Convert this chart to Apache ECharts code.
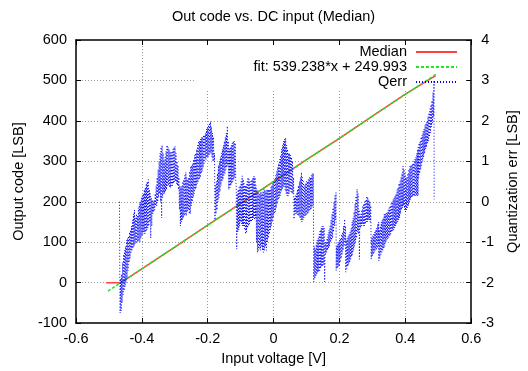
<!DOCTYPE html>
<html><head><meta charset="utf-8">
<script src="https://cdn.jsdelivr.net/npm/echarts@6/dist/echarts.min.js"></script>
<style>html,body{margin:0;padding:0;background:#fff}#c{width:528px;height:371px}</style>
</head><body><div id="c"></div>
<script>
const FONT = 'Liberation Sans, Arial, Helvetica, sans-serif';
const titleText = 'Out code vs. DC input (Median)';
const xName = 'Input voltage [V]';
const yLeftName = 'Output code [LSB]';
const yRightName = 'Quantization err [LSB]';
const seriesNames = ['Median', 'fit: 539.238*x + 249.993', 'Qerr'];

// Median output code [x (V), code (LSB)]
const medianData = [[-0.508,0],[-0.468,0],[-0.46,2],[-0.4,34],[-0.3,88],[-0.2,142],[-0.1,196],[0,250],[0.1,304],[0.2,357],[0.3,412],[0.4,466],[0.492,512]];
// Linear fit endpoints
const fitData = [[-0.503,-21],[0.496,517]];
// Quantization error [x (V), err (LSB)]
const qerrData = [
[-0.468,0.0],[-0.467,-1.98],[-0.466,-2.75],[-0.4645,-1.9],[-0.463,-2.7],[-0.4615,-1.8],[-0.46,-2.5],
[-0.4585,-1.5],[-0.457,-2.3],[-0.4555,-1.3],[-0.454,-2.2],[-0.4525,-1.2],[-0.451,-2.1],
[-0.4495,-1.1],[-0.448,-2.0],[-0.4465,-0.95],[-0.445,-1.9],[-0.4435,-0.9],[-0.442,-1.7],
[-0.4405,-0.85],[-0.439,-1.5],[-0.4375,-0.75],[-0.436,-1.4],[-0.4345,-0.7],[-0.433,-1.25],
[-0.4315,-0.6],[-0.43,-1.2],[-0.4285,-0.45],[-0.427,-1.15],[-0.4255,-0.3],[-0.424,-1.1],
[-0.4225,-0.2],[-0.421,-1.05],[-0.4195,-0.4],[-0.418,-1.0],[-0.4165,-0.3],[-0.415,-1.0],
[-0.4135,-0.35],[-0.412,-1.0],[-0.4105,-0.15],[-0.409,-0.95],[-0.4075,-0.05],[-0.406,-1.0],
[-0.4045,0.0],[-0.403,-0.9],[-0.4015,0.1],[-0.4,-0.85],[-0.3985,0.15],[-0.397,-0.8],
[-0.3955,0.2],[-0.394,-0.75],[-0.3925,0.3],[-0.391,-0.8],[-0.3895,0.35],[-0.388,-0.75],
[-0.3865,0.45],[-0.385,-0.7],[-0.3835,0.5],[-0.382,-0.65],[-0.3805,0.55],[-0.379,-0.6],
[-0.3775,0.3],[-0.376,-0.5],[-0.3745,0.2],[-0.373,-0.9],[-0.3715,0.1],[-0.37,-0.6],[-0.3685,0.05],[-0.367,-0.3],[-0.3655,0.0],[-0.364,-0.25],[-0.3625,0.05],[-0.361,-0.2],
[-0.3595,0.2],[-0.358,-0.1],[-0.3565,0.4],[-0.355,-0.1],[-0.3535,0.6],[-0.352,0.0],[-0.3505,0.8],[-0.349,0.1],
[-0.3475,1.0],[-0.346,0.2],[-0.3445,1.2],[-0.343,0.0],[-0.3415,1.35],[-0.34,-0.4],[-0.3385,1.4],[-0.337,0.1],
[-0.3355,1.2],[-0.334,0.2],[-0.3325,1.0],[-0.331,0.2],[-0.3295,1.1],[-0.328,0.25],[-0.3265,1.25],[-0.325,0.3],
[-0.3235,1.4],[-0.322,0.4],[-0.3205,1.35],[-0.319,0.4],[-0.3175,1.3],[-0.316,0.35],[-0.3145,1.25],[-0.313,0.35],
[-0.3115,1.2],[-0.31,0.4],[-0.3085,1.25],[-0.307,0.4],[-0.3055,1.3],[-0.304,0.45],[-0.3025,1.35],[-0.301,0.5],
[-0.2995,1.37],[-0.298,0.5],[-0.2965,1.2],[-0.295,0.45],[-0.2935,1.0],[-0.292,0.4],[-0.2905,0.9],[-0.289,0.3],
[-0.2875,0.6],[-0.286,-0.2],[-0.2845,0.4],[-0.283,-0.6],[-0.2815,0.35],[-0.28,-0.5],[-0.2785,0.4],[-0.277,-0.45],
[-0.2755,0.5],[-0.274,-0.4],[-0.2725,0.55],[-0.271,-0.35],[-0.2695,0.65],[-0.268,-0.3],[-0.2665,0.73],[-0.265,-0.35],
[-0.2635,0.6],[-0.262,-0.25],[-0.2605,0.55],[-0.259,-0.2],[-0.2575,0.6],[-0.256,-0.3],[-0.2545,0.75],[-0.253,-0.3],
[-0.2515,0.88],[-0.25,-0.1],[-0.2485,0.9],[-0.247,0.0],[-0.2455,0.95],[-0.244,0.1],[-0.2425,1.05],[-0.241,0.2],
[-0.2395,1.15],[-0.238,0.3],[-0.2365,1.2],[-0.235,0.35],[-0.2335,1.3],[-0.232,0.45],[-0.2305,1.4],[-0.229,0.5],
[-0.2275,1.5],[-0.226,0.55],[-0.2245,1.5],[-0.223,0.6],[-0.2215,1.55],[-0.22,0.7],[-0.2185,1.6],[-0.217,0.75],
[-0.2155,1.6],[-0.214,0.85],[-0.2125,1.65],[-0.211,0.95],[-0.2095,1.65],[-0.208,1.05],[-0.2065,1.7],[-0.205,1.05],
[-0.2035,1.8],[-0.202,1.1],[-0.2005,1.85],[-0.199,1.1],[-0.1975,1.9],[-0.196,1.15],[-0.1945,1.95],[-0.193,1.2],
[-0.1915,1.99],[-0.19,1.2],[-0.1885,1.85],[-0.187,1.1],[-0.1855,1.7],[-0.184,1.0],[-0.1825,1.6],[-0.181,1.0],
[-0.1795,1.2],[-0.178,-0.45],[-0.1765,0.4],[-0.175,-0.3],[-0.1735,0.5],[-0.172,-0.2],[-0.1705,0.7],[-0.169,0.0],
[-0.1675,0.9],[-0.166,0.1],[-0.1645,1.0],[-0.163,0.25],[-0.1615,1.1],[-0.16,0.4],[-0.1585,1.2],[-0.157,0.5],
[-0.1555,1.3],[-0.154,0.55],[-0.1525,1.4],[-0.151,0.65],[-0.1495,1.5],[-0.148,0.7],[-0.1465,1.6],[-0.145,0.8],
[-0.1435,1.7],[-0.142,0.85],[-0.1405,1.87],[-0.139,0.9],[-0.1375,1.5],[-0.136,0.3],[-0.1345,1.3],[-0.133,0.35],
[-0.1315,1.35],[-0.13,0.4],[-0.1285,1.4],[-0.127,0.45],[-0.1255,1.45],[-0.124,0.5],[-0.1225,1.5],[-0.121,0.55],
[-0.1195,1.5],[-0.118,0.6],[-0.1165,1.45],[-0.115,0.5],
[-0.1135,0.4],[-0.112,-1.17],[-0.1105,0.2],[-0.109,-0.75],[-0.1075,0.3],[-0.106,-0.7],[-0.1045,0.35],[-0.103,-0.6],
[-0.1015,0.4],[-0.1,-0.5],[-0.0985,0.5],[-0.097,-0.55],[-0.0955,0.64],[-0.094,-0.6],[-0.0925,0.55],[-0.091,-0.6],
[-0.0895,0.45],[-0.088,-0.7],[-0.0865,0.4],[-0.085,-0.8],[-0.0835,0.4],[-0.082,-0.75],[-0.0805,0.5],[-0.079,-0.65],
[-0.0775,0.6],[-0.076,-0.6],[-0.0745,0.55],[-0.073,-0.55],[-0.0715,0.5],[-0.07,-0.5],[-0.0685,0.5],[-0.067,-0.5],
[-0.0655,0.55],[-0.064,-0.45],[-0.0625,0.6],[-0.061,-0.4],[-0.0595,0.64],[-0.058,-0.45],[-0.0565,0.6],[-0.055,-0.4],
[-0.0535,0.4],[-0.052,-1.0],[-0.0505,0.3],[-0.049,-1.25],[-0.0475,0.25],[-0.046,-1.2],[-0.0445,0.2],[-0.043,-1.15],
[-0.0415,0.2],[-0.04,-1.2],[-0.0385,0.25],[-0.037,-1.1],[-0.0355,0.2],[-0.034,-1.2],[-0.0325,0.25],[-0.031,-1.25],
[-0.0295,0.3],[-0.028,-1.2],[-0.0265,0.3],[-0.025,-1.1],[-0.0235,0.25],[-0.022,-1.2],[-0.0205,0.3],[-0.019,-1.0],
[-0.0175,0.3],[-0.016,-0.9],[-0.0145,0.3],[-0.013,-0.8],[-0.0115,0.3],[-0.01,-0.7],[-0.0085,0.35],[-0.007,-0.6],
[-0.0055,0.4],[-0.004,-0.5],[-0.0025,0.45],[-0.001,-0.4],[0.0005,0.5],[0.002,-0.3],[0.0035,0.55],[0.005,-0.25],
[0.0065,0.65],[0.008,-0.15],[0.0095,0.75],[0.011,-0.05],[0.0125,0.85],[0.014,0.05],[0.0155,0.95],[0.017,0.1],
[0.0185,1.05],[0.02,0.15],[0.0215,1.15],[0.023,0.25],[0.0245,1.3],[0.026,0.3],[0.0275,1.4],[0.029,0.35],
[0.0305,1.5],[0.032,0.4],[0.0335,1.55],[0.035,0.3],[0.0365,1.58],[0.038,0.2],[0.0395,1.4],[0.041,0.15],
[0.0425,1.3],[0.044,0.14],[0.0455,1.2],[0.047,0.2],[0.0485,1.2],[0.05,0.3],[0.0515,1.15],[0.053,0.25],
[0.0545,1.1],[0.056,0.2],[0.0575,1.0],[0.059,0.2],
[0.0605,0.6],[0.062,-0.43],[0.0635,0.1],[0.065,-0.3],[0.0665,0.15],[0.068,-0.3],[0.0695,0.2],[0.071,-0.3],
[0.0725,0.3],[0.074,-0.35],[0.0755,0.4],[0.077,-0.35],[0.0785,0.5],[0.08,-0.4],[0.0815,0.6],[0.083,-0.45],
[0.0845,0.72],[0.086,-0.5],[0.0875,0.6],[0.089,-0.45],[0.0905,0.5],[0.092,-0.4],[0.0935,0.4],[0.095,-0.35],
[0.0965,0.45],[0.098,-0.35],[0.0995,0.5],[0.101,-0.3],[0.1025,0.5],[0.104,-0.3],[0.1055,0.55],[0.107,-0.25],
[0.1085,0.6],[0.11,-0.2],[0.1115,0.6],[0.113,-0.2],[0.1145,0.65],[0.116,-0.15],[0.1175,0.7],[0.119,-0.1],
[0.1205,0.7],[0.122,-1.98],[0.1235,-1.1],[0.125,-1.9],[0.1265,-1.17],[0.128,-1.85],[0.1295,-1.05],[0.131,-1.8],
[0.1325,-0.95],[0.134,-1.75],[0.1355,-0.9],[0.137,-1.73],[0.1385,-0.8],[0.14,-1.7],[0.1415,-0.7],[0.143,-1.65],
[0.1445,-0.65],[0.146,-1.6],[0.1475,-0.6],[0.149,-1.6],[0.1505,-0.6],[0.152,-1.55],
[0.1535,-0.65],[0.155,-1.98],[0.1565,-1.0],[0.158,-1.3],[0.1595,-0.99],[0.161,-1.25],[0.1625,-0.9],[0.164,-1.2],
[0.1655,-0.8],[0.167,-1.15],[0.1685,-0.7],[0.17,-1.1],[0.1715,-0.6],[0.173,-1.0],[0.1745,-0.45],[0.176,-0.95],
[0.1775,-0.3],[0.179,-0.9],[0.1805,-0.15],[0.182,-0.75],[0.1835,0.0],[0.185,-0.6],[0.1865,0.15],[0.188,-0.45],
[0.1895,0.23],[0.19,-1.7],
[0.1915,-1.1],[0.193,-1.65],[0.1945,-1.05],[0.196,-1.6],[0.1975,-1.0],[0.199,-1.6],[0.2005,-0.95],[0.202,-1.5],
[0.2035,-0.9],[0.205,-1.4],[0.2065,-0.8],[0.208,-1.3],[0.2095,-0.75],[0.211,-1.2],[0.2125,-0.6],[0.214,-1.1],
[0.2155,-0.43],[0.217,-1.0],
[0.2185,-0.6],[0.219,-1.74],[0.2205,-0.95],[0.222,-1.65],[0.2235,-0.9],[0.225,-1.6],[0.2265,-0.85],[0.228,-1.55],
[0.2295,-0.8],[0.231,-1.5],[0.2325,-0.75],[0.234,-1.42],[0.2355,-0.65],[0.237,-1.35],[0.2385,-0.5],[0.24,-1.3],
[0.2415,-0.4],[0.243,-1.2],[0.2445,-0.25],[0.246,-1.1],[0.2475,-0.05],[0.249,-1.0],[0.2505,0.14],[0.252,-0.9],
[0.2535,0.31],[0.255,-0.75],[0.2565,0.2],[0.258,-0.8],
[0.2595,-0.2],[0.2605,-1.42],[0.262,-0.35],[0.2635,-0.65],[0.265,-0.3],[0.2665,-0.6],[0.268,-0.2],[0.2695,-0.55],
[0.271,-0.1],[0.2725,-0.6],[0.274,-0.05],[0.2755,-0.6],[0.277,0.0],[0.2785,-0.55],[0.28,0.05],[0.2815,-0.5],
[0.283,0.14],[0.2845,-0.5],[0.286,0.1],[0.2875,-0.45],[0.289,0.05],[0.2905,-0.45],[0.292,0.0],[0.2935,-0.5],
[0.295,-0.1],[0.2965,-1.42],
[0.298,-0.9],[0.2995,-1.35],[0.301,-0.84],[0.3025,-1.3],[0.304,-0.8],[0.3055,-1.25],[0.307,-0.75],[0.3085,-1.2],
[0.31,-0.7],[0.3115,-1.2],[0.313,-0.65],[0.3145,-1.15],[0.316,-0.55],[0.3175,-1.1],[0.319,-0.5],[0.3195,-1.46],
[0.321,-0.7],[0.3225,-1.4],[0.324,-0.6],[0.3255,-1.3],[0.327,-0.5],[0.3285,-1.25],[0.33,-0.45],[0.3315,-1.2],
[0.333,-0.4],[0.3345,-1.15],[0.336,-0.3],[0.3375,-1.1],[0.339,-0.3],[0.3405,-1.0],[0.342,-0.28],[0.3435,-0.95],
[0.345,-0.26],[0.3465,-0.92],[0.348,-0.2],[0.3495,-0.88],[0.351,-0.15],[0.3525,-0.85],[0.354,-0.1],[0.3555,-0.8],
[0.357,-0.05],[0.3585,-0.75],[0.36,0.0],[0.3615,-0.72],[0.363,0.06],[0.3645,-0.7],[0.366,0.1],[0.3675,-0.65],
[0.369,0.15],[0.3705,-0.6],[0.372,0.2],[0.3735,-0.55],[0.375,0.3],[0.3765,-0.5],[0.378,0.35],[0.3795,-0.45],
[0.381,0.45],[0.3825,-0.4],[0.384,0.5],[0.3855,-0.3],[0.387,0.6],[0.3885,-0.2],[0.39,0.7],[0.3915,-0.15],
[0.393,0.88],[0.3945,-0.1],[0.396,0.8],[0.3975,-0.2],[0.399,0.7],[0.4005,-0.25],[0.402,0.6],[0.4035,-0.2],
[0.405,0.6],[0.4065,-0.15],[0.408,0.7],[0.4095,-0.1],[0.411,0.8],[0.4125,0.0],[0.414,0.88],[0.4155,0.05],
[0.417,0.9],[0.4185,0.1],[0.42,0.92],[0.4215,0.12],[0.423,0.95],[0.4245,0.14],[0.426,1.0],[0.4275,0.14],
[0.429,1.05],[0.4305,0.15],[0.432,1.1],[0.4335,0.15],[0.435,1.2],[0.4365,0.15],[0.438,1.29],[0.4385,0.15],[0.439,1.35],
[0.4405,0.6],[0.442,1.45],[0.4435,0.7],[0.445,1.5],[0.4465,0.8],[0.448,1.6],[0.4495,0.9],[0.451,1.65],
[0.4525,1.0],[0.454,1.75],[0.4555,1.1],[0.457,1.8],[0.4585,1.2],[0.46,1.9],[0.4615,1.3],[0.463,1.95],
[0.4645,1.35],[0.466,2.0],[0.4675,1.45],[0.469,2.11],[0.4705,1.5],[0.472,2.2],[0.4735,1.6],[0.475,2.3],
[0.4765,1.7],[0.478,2.4],[0.4795,1.85],[0.481,2.5],[0.4825,1.95],[0.484,2.7],[0.4855,2.1],[0.487,3.0],[0.4875,0.06]
];

const chart = echarts.init(document.getElementById('c'), null, {renderer: 'canvas'});
const txt = {color: '#000', fontSize: 14.5, fontFamily: FONT};
const fmtX = v => Math.abs(v) < 1e-9 ? '0' : v.toFixed(1);
const border = {show: true, onZero: false, lineStyle: {color: '#000', width: 1.5}};
const tick = {show: true, inside: true, length: 5, lineStyle: {color: '#000', width: 1}};
const grid = {show: true, showMinLine: false, showMaxLine: false, lineStyle: {color: '#999', width: 1, type: [1, 2]}};

chart.setOption({
  animation: false,
  backgroundColor: '#fff',
  title: {text: titleText, left: 172, top: 9, padding: 0, textStyle: Object.assign({fontWeight: 'normal'}, txt)},
  grid: {left: 76, right: 52, top: 40, bottom: 47, containLabel: false},
  legend: {
    orient: 'vertical', align: 'right', right: 70, top: 44.5, padding: 0,
    itemWidth: 41, itemHeight: 10, itemGap: 0,
    itemStyle: {opacity: 0},
    textStyle: Object.assign({lineHeight: 15}, txt),
    formatter: n => n + ' ',
    data: seriesNames
  },
  graphic: [{type: 'rect', z: 1, silent: true, shape: {x: 196, y: 41, width: 279, height: 48}, style: {fill: '#fff'}}],
  xAxis: [
    {type: 'value', position: 'bottom', min: -0.6, max: 0.6, interval: 0.2,
     axisLine: border, axisTick: tick, splitLine: grid,
     axisLabel: Object.assign({formatter: fmtX, margin: 8}, txt),
     name: xName, nameLocation: 'middle', nameGap: 25, nameTextStyle: txt},
    {type: 'value', position: 'top', min: -0.6, max: 0.6, interval: 0.2, z: 5,
     axisLine: border, axisTick: tick, splitLine: {show: false}, axisLabel: {show: false}}
  ],
  yAxis: [
    {type: 'value', position: 'left', min: -100, max: 600, interval: 100,
     axisLine: border, axisTick: tick, splitLine: grid,
     axisLabel: Object.assign({margin: 9}, txt),
     name: yLeftName, nameLocation: 'middle', nameGap: 50, nameTextStyle: txt},
    {type: 'value', position: 'right', min: -3, max: 4, interval: 1, z: 5,
     axisLine: border, axisTick: tick, splitLine: {show: false},
     axisLabel: Object.assign({margin: 10}, txt),
     name: yRightName, nameLocation: 'middle', nameGap: 33, nameTextStyle: txt}
  ],
  series: [
    {name: seriesNames[0], type: 'line', data: medianData, symbol: 'none', showSymbol: false,
     lineStyle: {color: '#ff4040', width: 1.5}, itemStyle: {color: '#ff4040'}},
    {name: seriesNames[1], type: 'line', data: fitData, symbol: 'none', showSymbol: false,
     lineStyle: {color: '#22e622', width: 1.5, type: [3, 2]}, itemStyle: {color: '#22e622'}},
    {name: seriesNames[2], type: 'line', yAxisIndex: 1, data: qerrData, symbol: 'none', showSymbol: false,
     lineStyle: {color: '#0000ff', width: 1, type: [1, 2]}, itemStyle: {color: '#0000ff'}}
  ]
});
</script>
</body></html>
